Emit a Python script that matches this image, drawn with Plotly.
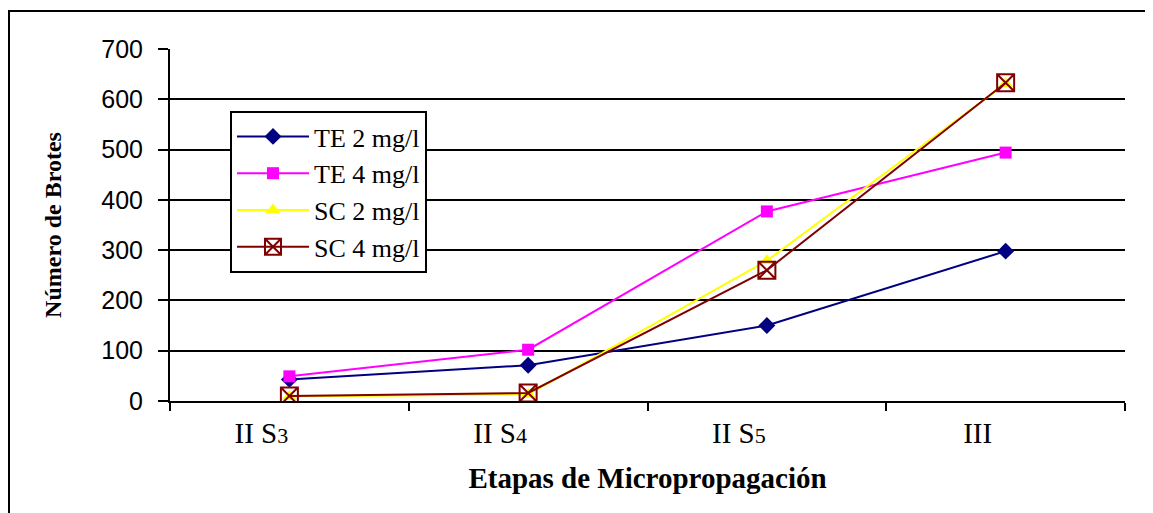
import plotly.graph_objects as go

categories = ["II S3", "II S4", "II S5", "III"]
tick_text = [
    "II S<span style='font-size:22px'>3</span>",
    "II S<span style='font-size:22px'>4</span>",
    "II S<span style='font-size:22px'>5</span>",
    "III",
]
te2 = [43, 71, 150, 298]
te4 = [49, 102, 377, 494]
sc2 = [9, 13, 279, 631]
sc4 = [10, 16, 260, 633]
series_names = ["TE 2 mg/l", "TE 4 mg/l", "SC 2 mg/l", "SC 4 mg/l"]

# page is offset by the 8px body margin
OFF = 8
W, H = 1153, 513
L, T = 170 - OFF, 49 - OFF
R = W - (1125 - OFF)
B = H - (401 - OFF)

fig = go.Figure()
styles = [
    dict(color="#000080", symbol="diamond", size=13),
    dict(color="#FF00FF", symbol="square", size=12),
    dict(color="#FFFF00", symbol="triangle-up", size=13),
    dict(color="#800000", symbol="square-x-open", size=17),
]
for i, (name, vals, st) in enumerate(zip(series_names, [te2, te4, sc2, sc4], styles)):
    fig.add_trace(go.Scatter(
        x=categories, y=vals, name=name, mode="lines+markers",
        line=dict(color=st["color"], width=2),
        marker=dict(color=st["color"], symbol=st["symbol"], size=st["size"],
                    line=dict(color=st["color"], width=2 if "open" in st["symbol"] else 0)),
    ))

pw = W - L - R
ph = H - T - B
def px(x):
    return (x - OFF - L) / pw
def py(y):
    return (H - B - (y - OFF)) / ph

fig.add_shape(type="rect", xref="paper", yref="paper",
              x0=px(9), x1=px(1175), y0=py(11), y1=py(560),
              line=dict(color="black", width=2), layer="below")

fig.update_layout(
    width=W, height=H,
    margin=dict(l=L, r=R, t=T, b=B),
    paper_bgcolor="white", plot_bgcolor="white",
    showlegend=True,
    legend=dict(
        x=px(230), y=py(111), xanchor="left", yanchor="top",
        bgcolor="white", bordercolor="black", borderwidth=2,
        font=dict(family="Liberation Serif", size=26, color="black"),
        traceorder="normal", itemwidth=72,
    ),
    xaxis=dict(
        type="category", range=[-0.5, 3.5],
        tickmode="array", tickvals=categories, ticktext=tick_text,
        tickson="boundaries", ticks="outside", ticklen=8, tickwidth=2, tickcolor="black",
        showline=True, linecolor="black", linewidth=2, showgrid=False,
        tickfont=dict(family="Liberation Serif", size=29, color="black"),
        ticklabelshift=-28, ticklabelstandoff=5,
        title=dict(text="<b>Etapas de Micropropagación</b>",
                   font=dict(family="Liberation Serif", size=29, color="black"),
                   standoff=20),
    ),
    yaxis=dict(
        range=[0, 700], dtick=100, tick0=0,
        ticks="outside", ticklen=10, tickwidth=2, tickcolor="black",
        showline=True, linecolor="black", linewidth=2,
        showgrid=True, gridcolor="black", gridwidth=1.5,
        zeroline=False,
        tickfont=dict(family="Liberation Sans", size=25, color="black"),
        ticklabelstandoff=10,
        title=dict(text="<b>Número de Brotes</b>",
                   font=dict(family="Liberation Serif", size=24, color="black"),
                   standoff=33),
    ),
)

fig.write_html("out.html")
